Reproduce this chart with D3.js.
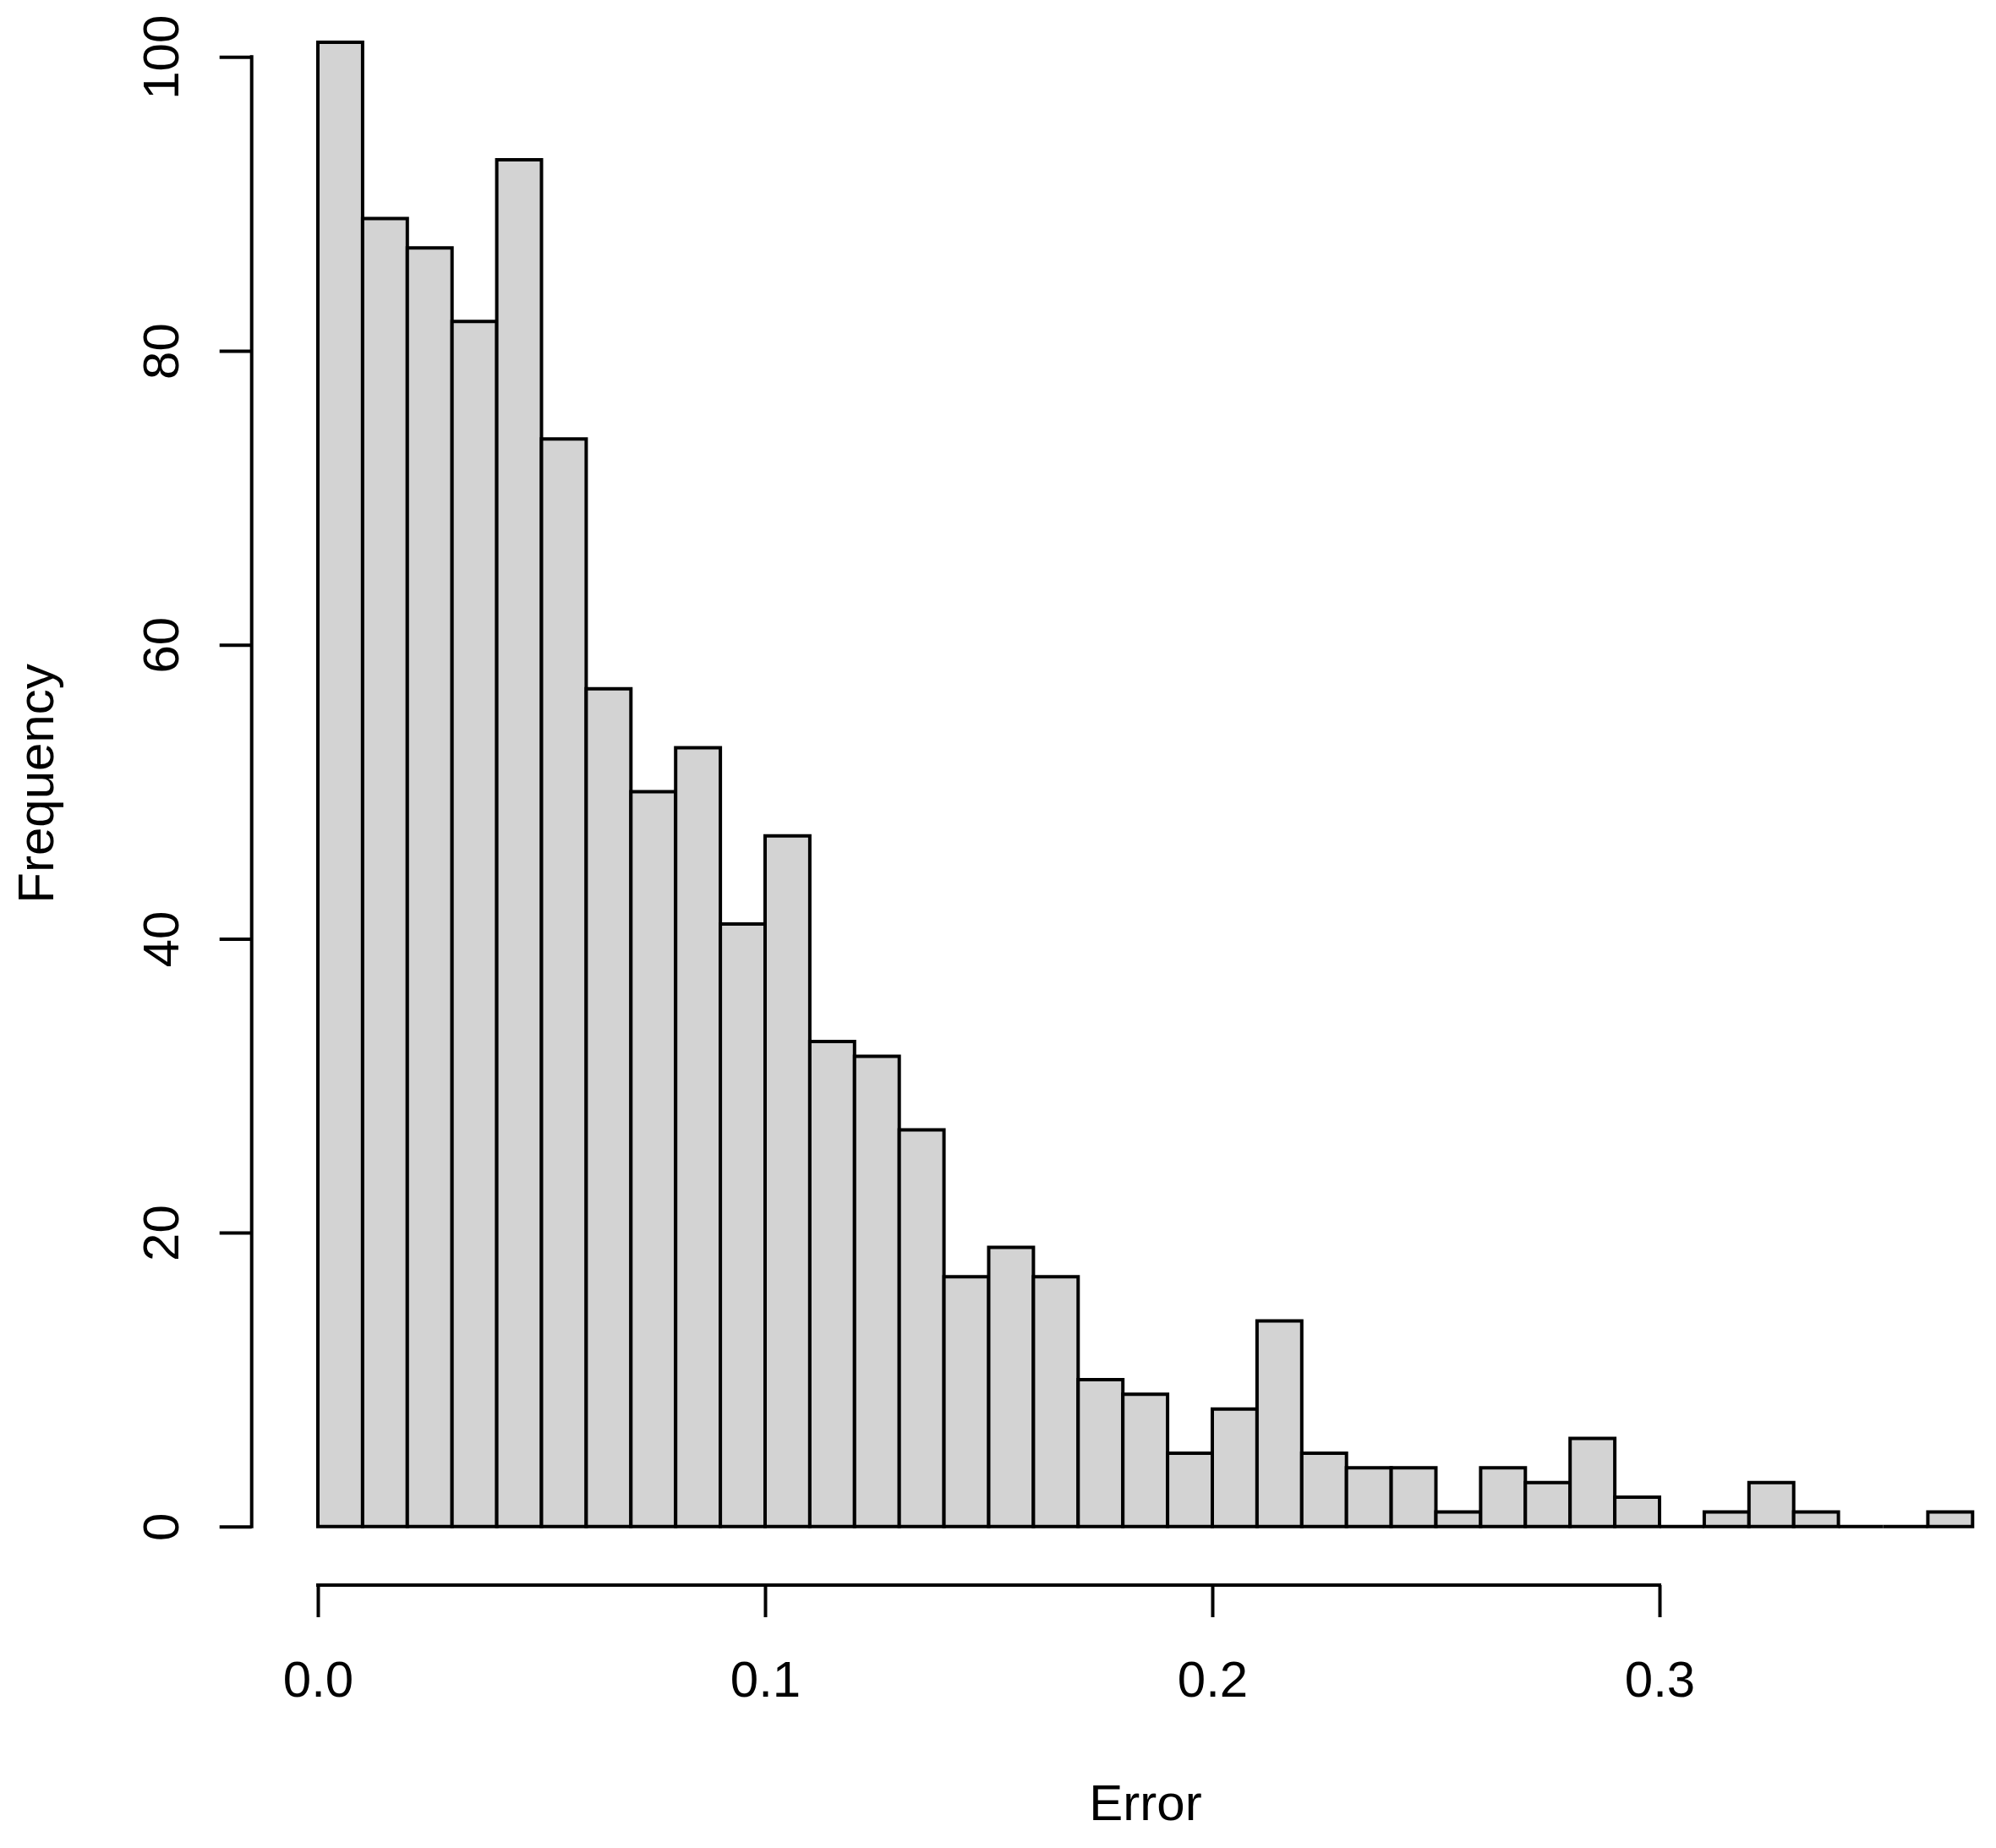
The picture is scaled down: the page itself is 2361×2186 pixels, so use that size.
<!DOCTYPE html>
<html>
<head>
<meta charset="utf-8">
<script src="https://cdn.jsdelivr.net/npm/d3@7"></script>
<style>
  html, body { margin: 0; padding: 0; background: #fff; }
  svg { display: block; }
  text { font-family: "Liberation Sans", Arial, sans-serif; fill: #000; }
</style>
</head>
<body>
<svg id="chart" width="2361" height="2186"></svg>
<script>
// ---- data ----
const binStarts = d3.range(0, 37).map(i => +(i * 0.01).toFixed(2));
const binWidth = 0.01;
const counts = [101, 89, 87, 82, 93, 74, 57, 50, 53, 41,
                47, 33, 32, 27, 17, 19, 17, 10, 9, 5,
                8, 14, 5, 4, 4, 1, 4, 3, 6, 2,
                0, 1, 3, 1, 0, 0, 1];
const xTicks = [0, 0.1, 0.2, 0.3];
const xTickLabels = ["0.0", "0.1", "0.2", "0.3"];
const yTicks = [0, 20, 40, 60, 80, 100];
const xTitle = "Error";
const yTitle = "Frequency";

// ---- layout ----
const svg = d3.select("#chart");
const x = d3.scaleLinear().domain([0, 0.37]).range([376, 2333.3]);
const y = d3.scaleLinear().domain([0, 100]).range([1805.8, 67.3]);
const axisX = 297.7;     // y-axis line position
const axisY = 1875;      // x-axis line position
const fontSize = 60;
const lw = 4;

// bars (paths so zero-count bins show as baseline segments)
svg.append("g").selectAll("path")
  .data(binStarts.map((s, i) => ({ s, c: counts[i] })))
  .join("path")
  .attr("d", d => {
    const x0 = x(d.s), x1 = x(d.s + binWidth), y0 = y(0), y1 = y(d.c);
    return `M${x0},${y0}V${y1}H${x1}V${y0}Z`;
  })
  .attr("fill", "#d3d3d3")
  .attr("stroke", "#000")
  .attr("stroke-width", lw)
  .attr("stroke-linejoin", "miter");

// x axis
const gx = svg.append("g").attr("transform", `translate(0,${axisY})`)
  .call(d3.axisBottom(x).tickValues(xTicks).tickSize(38).tickPadding(0)
    .tickFormat((d, i) => xTickLabels[i]));
gx.select(".domain").remove();
gx.append("line")
  .attr("x1", x(xTicks[0])).attr("x2", x(xTicks[xTicks.length - 1]))
  .attr("y1", 0).attr("y2", 0)
  .attr("stroke", "#000").attr("stroke-width", lw).attr("stroke-linecap", "square");
gx.selectAll(".tick line").attr("stroke", "#000").attr("stroke-width", lw);
gx.selectAll(".tick text")
  .attr("y", 2006.7 - axisY).attr("dy", 0)
  .style("font-size", fontSize + "px")
  .style("font-family", '"Liberation Sans", Arial, sans-serif')
  .attr("fill", "#000");

// y axis
const gy = svg.append("g").attr("transform", `translate(${axisX},0)`)
  .call(d3.axisLeft(y).tickValues(yTicks).tickSize(38).tickPadding(0));
gy.select(".domain").remove();
gy.append("line")
  .attr("x1", 0).attr("x2", 0)
  .attr("y1", y(yTicks[0])).attr("y2", y(yTicks[yTicks.length - 1]))
  .attr("stroke", "#000").attr("stroke-width", lw).attr("stroke-linecap", "square");
gy.selectAll(".tick line").attr("stroke", "#000").attr("stroke-width", lw);
gy.selectAll(".tick text")
  .attr("x", 0).attr("dy", 0)
  .attr("text-anchor", "middle")
  .attr("transform", `translate(${210.7 - axisX},0) rotate(-90)`)
  .style("font-size", fontSize + "px")
  .style("font-family", '"Liberation Sans", Arial, sans-serif')
  .attr("fill", "#000");

// axis titles
svg.append("text")
  .attr("x", 1355).attr("y", 2153.3)
  .attr("text-anchor", "middle")
  .style("font-size", fontSize + "px")
  .text(xTitle);

svg.append("text")
  .attr("transform", `translate(62.7,927) rotate(-90)`)
  .attr("text-anchor", "middle")
  .style("font-size", fontSize + "px")
  .text(yTitle);
</script>
</body>
</html>
